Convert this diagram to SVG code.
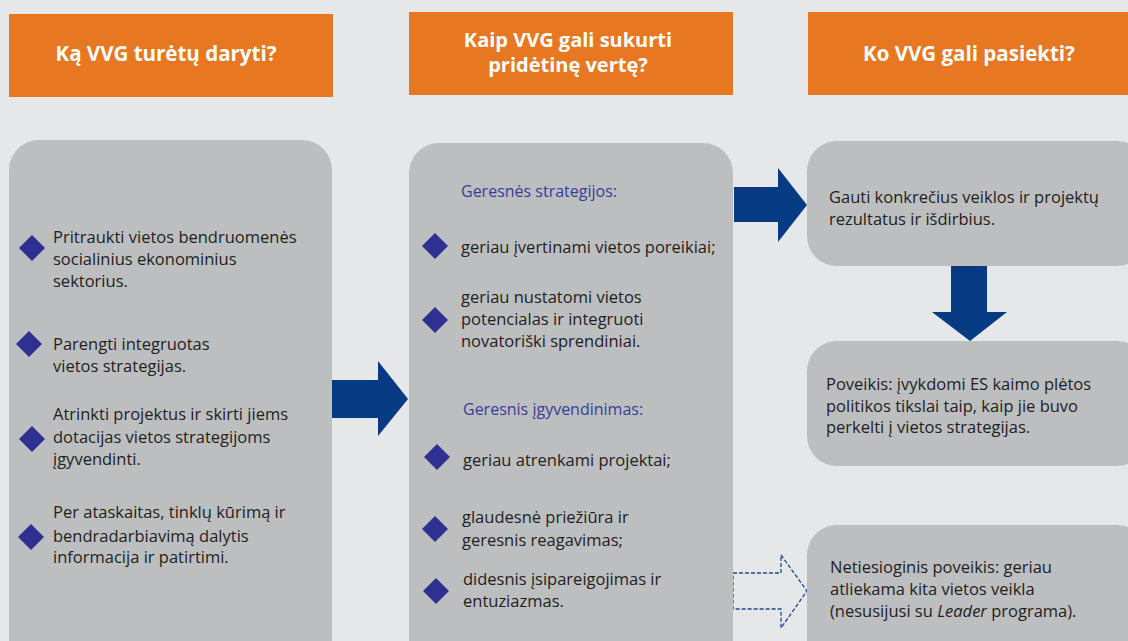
<svg xmlns="http://www.w3.org/2000/svg" width="1128" height="641" viewBox="0 0 1128 641">
<style>
.hdr{fill:#E87722}
.hdrt{fill:#FFFFFF;font-family:"Open Sans","Liberation Sans",Arial,sans-serif;font-weight:bold;font-size:20.5px;text-anchor:middle}
.box{fill:#BCBEC0}
.t{fill:#231F20;font-family:"Open Sans","Liberation Sans",Arial,sans-serif;font-size:16.5px}
.sub{fill:#3A3C9A;font-family:"Open Sans","Liberation Sans",Arial,sans-serif;font-size:16px}
.dia{fill:#2E3192}
.arr{fill:#063B84}
.darr{fill:none;stroke:#1F4A90;stroke-width:1.3;stroke-dasharray:4 2}
</style>
<defs>
<polygon id="d" points="0,-13 13,0 0,13 -13,0"/>
</defs>
<rect width="1128" height="641" fill="#E6E7E8"/>

<g id="header1">
<rect class="hdr" x="9" y="14" width="324" height="83"/>
<text class="hdrt" x="166" y="61">Ką VVG turėtų daryti?</text>
</g>
<g id="header2">
<rect class="hdr" x="409" y="12" width="324" height="83"/>
<text class="hdrt" x="568" y="47" style="font-size:20px">Kaip VVG gali sukurti</text>
<text class="hdrt" x="568" y="72" style="font-size:20px">pridėtinę vertę?</text>
</g>
<g id="header3">
<rect class="hdr" x="808" y="12" width="330" height="83"/>
<text class="hdrt" x="969" y="61">Ko VVG gali pasiekti?</text>
</g>

<g id="connectors">
<polygon class="arr" points="332,380 378,380 378,361 408,399 378,436 378,418 332,418"/>
<polygon class="arr" points="734,187 778,187 778,168 807,205 778,242 778,222 734,222"/>
<polygon class="arr" points="951,266 987,266 987,312 1007,312 970,341 932,312 951,312"/>
<polygon class="darr" points="733,573 781,573 781,555 807,591 781,628 781,609 733,609"/>
</g>

<g id="box1">
<rect class="box" x="9" y="140" width="323" height="540" rx="30"/>
<use href="#d" class="dia" x="32" y="248"/>
<text class="t" x="53" y="243">Pritraukti vietos bendruomenės</text>
<text class="t" x="53" y="265">socialinius ekonominius</text>
<text class="t" x="53" y="287">sektorius.</text>
<use href="#d" class="dia" x="29" y="344"/>
<text class="t" x="53" y="350">Parengti integruotas</text>
<text class="t" x="53" y="372">vietos strategijas.</text>
<use href="#d" class="dia" x="32" y="439"/>
<text class="t" x="53" y="420">Atrinkti projektus ir skirti jiems</text>
<text class="t" x="53" y="443">dotacijas vietos strategijoms</text>
<text class="t" x="53" y="465">įgyvendinti.</text>
<use href="#d" class="dia" x="31" y="537"/>
<text class="t" x="53" y="518">Per ataskaitas, tinklų kūrimą ir</text>
<text class="t" x="53" y="542">bendradarbiavimą dalytis</text>
<text class="t" x="53" y="563">informacija ir patirtimi.</text>
</g>

<g id="box2">
<rect class="box" x="409" y="143" width="324" height="540" rx="30"/>
<text class="sub" x="461" y="197">Geresnės strategijos:</text>
<use href="#d" class="dia" x="435" y="246"/>
<text class="t" x="461" y="253">geriau įvertinami vietos poreikiai;</text>
<use href="#d" class="dia" x="435" y="320"/>
<text class="t" x="461" y="303">geriau nustatomi vietos</text>
<text class="t" x="461" y="325">potencialas ir integruoti</text>
<text class="t" x="461" y="347">novatoriški sprendiniai.</text>
<text class="sub" x="463" y="415">Geresnis įgyvendinimas:</text>
<use href="#d" class="dia" x="437" y="457"/>
<text class="t" x="463" y="466">geriau atrenkami projektai;</text>
<use href="#d" class="dia" x="435" y="529"/>
<text class="t" x="462" y="523">glaudesnė priežiūra ir</text>
<text class="t" x="462" y="546">geresnis reagavimas;</text>
<use href="#d" class="dia" x="436" y="591"/>
<text class="t" x="463" y="585">didesnis įsipareigojimas ir</text>
<text class="t" x="463" y="607">entuziazmas.</text>
</g>

<g id="box3">
<rect class="box" x="807" y="141" width="340" height="125" rx="30"/>
<text class="t" x="829" y="203">Gauti konkrečius veiklos ir projektų</text>
<text class="t" x="829" y="225">rezultatus ir išdirbius.</text>
</g>

<g id="box4">
<rect class="box" x="807" y="341" width="340" height="125" rx="30"/>
<text class="t" x="826" y="390">Poveikis: įvykdomi ES kaimo plėtos</text>
<text class="t" x="826" y="412">politikos tikslai taip, kaip jie buvo</text>
<text class="t" x="826" y="433">perkelti į vietos strategijas.</text>
</g>

<g id="box5">
<rect class="box" x="807" y="525" width="340" height="160" rx="30"/>
<text class="t" x="830" y="573">Netiesioginis poveikis: geriau</text>
<text class="t" x="830" y="595">atliekama kita vietos veikla</text>
<text class="t" x="830" y="617">(nesusijusi su <tspan font-style="italic">Leader</tspan> programa).</text>
</g>
</svg>
